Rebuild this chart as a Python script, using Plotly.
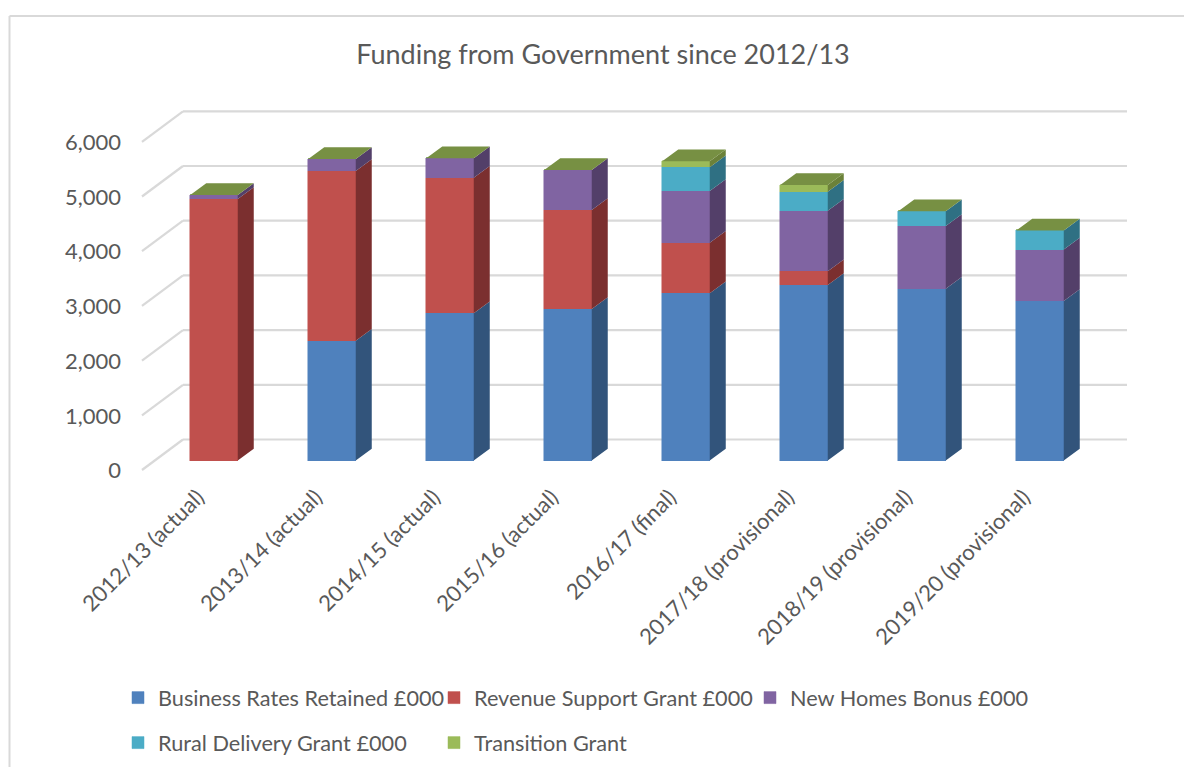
import plotly.graph_objects as go

# Funding by year, GBP thousands
years = ["2012/13 (actual)", "2013/14 (actual)", "2014/15 (actual)", "2015/16 (actual)",
         "2016/17 (final)", "2017/18 (provisional)", "2018/19 (provisional)", "2019/20 (provisional)"]
business_rates = [0, 2190, 2691, 2770, 3057, 3208, 3141, 2916]
revenue_support = [4781, 3102, 2479, 1810, 925, 251, 0, 0]
new_homes = [73, 220, 355, 731, 945, 1108, 1146, 941]
rural_delivery = [0, 0, 0, 0, 433, 347, 269, 348]
transition = [0, 0, 0, 0, 110, 123, 0, 0]
axis_ticks = [0, 1000, 2000, 3000, 4000, 5000, 6000]

series = [
    ("Business Rates Retained £000", business_rates, "#4f81bd", "#32547b", "legend"),
    ("Revenue Support Grant £000", revenue_support, "#c0504d", "#7b2f2f", "legend"),
    ("New Homes Bonus £000", new_homes, "#8064a2", "#533f69", "legend"),
    ("Rural Delivery Grant £000", rural_delivery, "#4bacc6", "#2f7083", "legend2"),
    ("Transition Grant", transition, "#9bbb59", "#6b8139", "legend2"),
]

WIDTH, HEIGHT = 1184, 767
LEFT, RIGHT, TOP, BOTTOM = 125, 1150, 100, 475

# Axis scales: one category step is 118 px, 1000 units are 54.7 px
PX_PER_CAT = 118.0
PX_PER_UNIT = 0.0547
CENTER0_PX = 214.0
ZERO_PX = 460.5
x_range = [(LEFT - CENTER0_PX) / PX_PER_CAT, (RIGHT - CENTER0_PX) / PX_PER_CAT]
y_range = [(ZERO_PX - BOTTOM) / PX_PER_UNIT, (ZERO_PX - TOP) / PX_PER_UNIT]

# Oblique projection used for the fake 3D depth
BAR_W = 47.5 / PX_PER_CAT
DEPTH_X = 16.0 / PX_PER_CAT
DEPTH_Y = 11.7 / PX_PER_UNIT
WALL_BACK_Y = 21.0 / PX_PER_UNIT
WALL_FRONT_Y = -9.5 / PX_PER_UNIT
WALL_BACK_X = (183 - CENTER0_PX) / PX_PER_CAT
WALL_FRONT_X = (142 - CENTER0_PX) / PX_PER_CAT
WALL_RIGHT_X = (1127 - CENTER0_PX) / PX_PER_CAT

# Offsets that place the axis labels relative to the projected floor
LABEL_SHIFT_X = -16.0 / PX_PER_CAT
LABEL_SHIFT_Y = -10.0 / PX_PER_UNIT

fig = go.Figure()
positions = list(range(len(years)))

# Front faces
for name, values, front, side, legend in series:
    fig.add_trace(go.Bar(x=positions, y=values, width=BAR_W, name=name, legend=legend,
                         marker=dict(color=front, line=dict(color=front, width=0.5))))

# Right-hand faces of each stacked segment
bases = [0] * len(years)
for name, values, front, side, legend in series:
    xs, ys = [], []
    for i, v in enumerate(values):
        if v > 0:
            xr = i + BAR_W / 2
            lo, hi = bases[i], bases[i] + v
            xs += [xr, xr + DEPTH_X, xr + DEPTH_X, xr, xr, None]
            ys += [lo, lo + DEPTH_Y, hi + DEPTH_Y, hi, lo, None]
        bases[i] += v
    fig.add_trace(go.Scatter(x=xs, y=ys, mode="lines", fill="toself", fillcolor=side,
                             line=dict(width=0, color=side), showlegend=False, hoverinfo="skip"))

# Top faces sit on the stack totals
xs, ys = [], []
for i, total in enumerate(bases):
    xl, xr = i - BAR_W / 2, i + BAR_W / 2
    xs += [xl, xr, xr + DEPTH_X, xl + DEPTH_X, xl, None]
    ys += [total, total, total + DEPTH_Y, total + DEPTH_Y, total, None]
fig.add_trace(go.Scatter(x=xs, y=ys, mode="lines", fill="toself", fillcolor="#779043",
                         line=dict(width=0, color="#779043"), showlegend=False, hoverinfo="skip"))

# Back wall gridlines and their diagonal floor returns
wall_style = dict(color="#d9d9d9", width=2.2)
shapes = []
for t in axis_ticks:
    shapes.append(dict(type="line", layer="below", xref="x", yref="y", line=wall_style,
                       x0=WALL_BACK_X, x1=WALL_RIGHT_X, y0=t + WALL_BACK_Y, y1=t + WALL_BACK_Y))
    shapes.append(dict(type="line", layer="below", xref="x", yref="y", line=wall_style,
                       x0=WALL_FRONT_X, x1=WALL_BACK_X, y0=t + WALL_FRONT_Y, y1=t + WALL_BACK_Y))


# Chart frame along the top and left edges of the page
def paper_x(px):
    return (px - LEFT) / (RIGHT - LEFT)


def paper_y(px):
    return (BOTTOM - px) / (BOTTOM - TOP)


frame_style = dict(color="#d9d9d9", width=2)
shapes.append(dict(type="line", xref="paper", yref="paper", line=frame_style, layer="below",
                   x0=paper_x(9.5), x1=paper_x(1184), y0=paper_y(16), y1=paper_y(16)))
shapes.append(dict(type="line", xref="paper", yref="paper", line=frame_style, layer="below",
                   x0=paper_x(9.5), x1=paper_x(9.5), y0=paper_y(16), y1=paper_y(767)))

FONT = "Lato"
TEXT = "#595959"
legend_common = dict(orientation="h", xanchor="left", yanchor="middle", traceorder="normal",
                     entrywidth=271, entrywidthmode="pixels",
                     bgcolor="rgba(0,0,0,0)", font=dict(family=FONT, size=21.7, color=TEXT))

fig.update_layout(
    width=WIDTH, height=HEIGHT,
    barmode="stack",
    bargap=0,
    paper_bgcolor="white", plot_bgcolor="rgba(0,0,0,0)",
    margin=dict(l=LEFT, r=WIDTH - RIGHT, t=TOP, b=HEIGHT - BOTTOM, pad=0, autoexpand=False),
    font=dict(family=FONT, color=TEXT),
    title=dict(text="Funding from Government since 2012/13", xref="paper", yref="container",
               x=paper_x(603), xanchor="center", y=1 - 55 / HEIGHT, yanchor="middle",
               font=dict(family=FONT, size=27, color=TEXT)),
    xaxis=dict(range=x_range, tickmode="array", tickvals=[p + LABEL_SHIFT_X for p in positions],
               ticktext=years, tickangle=-45, ticklabelstandoff=4,
               showgrid=False, zeroline=False, showline=False, ticks="",
               tickfont=dict(family=FONT, size=22, color=TEXT)),
    yaxis=dict(range=y_range, tickmode="array", tickvals=[t + LABEL_SHIFT_Y for t in axis_ticks],
               ticktext=[f"{t:,}" for t in axis_ticks], ticklabelstandoff=3,
               showgrid=False, zeroline=False, showline=False, ticks="",
               tickfont=dict(family=FONT, size=22, color=TEXT)),
    legend=dict(x=paper_x(118), y=paper_y(698), **legend_common),
    legend2=dict(x=paper_x(118), y=paper_y(743), **legend_common),
    shapes=shapes,
)

fig.write_html("out.html")
